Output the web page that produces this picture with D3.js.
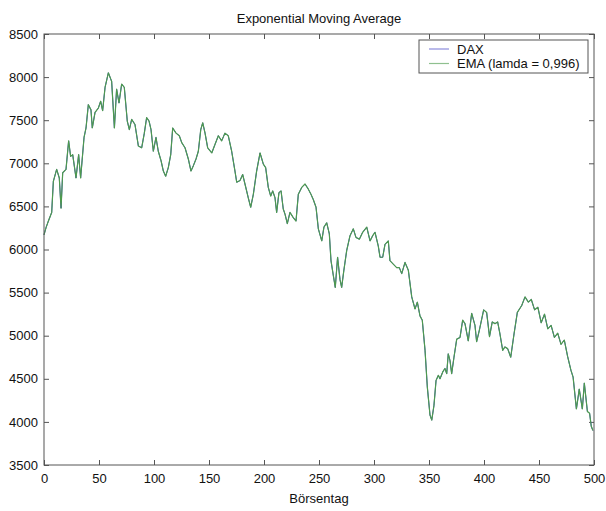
<!DOCTYPE html>
<html>
<head>
<meta charset="utf-8">
<script src="https://cdn.jsdelivr.net/npm/d3@7"></script>
<style>
	body { margin: 0; background: #fff; }
	text { font-family: "Liberation Sans", Arial, sans-serif; fill: #111; }
</style>
</head>
<body>
<svg id="chart" width="606" height="511"></svg>
<script>
// values (Börsentag, index points)
let days = [
	0, 2, 4, 7, 8.5, 11.5, 13.9, 15.5, 17, 20, 22.4, 24.2, 26.1, 29.1, 31.5, 33.3,
	36.4, 38.2, 40.3, 42.7, 43.9, 46.4, 49.4, 51.5, 53.3, 55.5, 58.5, 61.5, 64, 66,
	68.2, 70.6, 73, 75.7, 77.6, 79.7, 82.7, 85.8, 88.8, 91.2, 93.3, 95.5, 97.3, 99.4,
	101.8, 103.9, 106.4, 108.5, 110.6, 113, 115.2, 117, 120, 123, 125.2, 128.2, 131.2,
	133.6, 135.7, 138.2, 140.3, 142.5, 144.3, 146.4, 148.8, 152.5, 155.5, 158.5, 161.5,
	164.5, 167.5, 170.6, 173.6, 175.2, 178.2, 180.6, 182.7, 185.7, 187.9, 190.3, 193.3,
	196.4, 199.4, 201.5, 203.9, 206.1, 207.9, 210, 211.5, 213.6, 215.5, 217.5, 219.1,
	221.2, 223.6, 226.6, 229.1, 231.2, 234.3, 237.3, 240.3, 242.7, 244.8, 247.3, 249.4,
	252.5, 254.5, 257, 259.4, 260.9, 263, 264.8, 266.9, 269.1, 270.6, 272.5, 275.2,
	278.2, 281.2, 283.6, 286.7, 289.7, 293.4, 296.4, 298.8, 300.9, 303.9, 305.5, 307.9,
	310, 313, 314.5, 317.5, 320.6, 323, 325.2, 328.2, 331.2, 334.3, 337.3, 339.4, 341.8,
	343.9, 346.4, 348.5, 350.9, 352.5, 354.5, 356.4, 358.5, 360, 362.5, 364.5, 366.1,
	367.5, 369.1, 370.6, 372.7, 375.2, 378.2, 380.6, 382.7, 385.7, 388.8, 391.8, 393.3,
	395.7, 399.7, 402.4, 405, 407.5, 410, 412.4, 414.5, 417, 419, 421.5, 424.3, 427.3,
	430.3, 434.3, 437.3, 440.3, 443, 446, 449, 452, 455, 458, 461, 464, 467, 470, 473,
	476, 479, 481, 484, 486.6, 489.4, 491.2, 494, 496, 497.5, 499
];
let emaValues = [
	6170, 6260, 6330, 6430, 6790, 6930, 6830, 6480, 6890, 6930, 7260, 7080, 7100, 6830, 7100, 6830,
	7300, 7410, 7680, 7620, 7410, 7590, 7640, 7720, 7610, 7880, 8050, 7950, 7410, 7860,
	7700, 7920, 7880, 7490, 7390, 7510, 7450, 7200, 7180, 7350, 7530, 7490, 7390, 7140,
	7300, 7140, 7030, 6910, 6850, 6950, 7100, 7410, 7350, 7320, 7240, 7180, 7050,
	6910, 6970, 7050, 7140, 7390, 7470, 7350, 7180, 7120, 7220, 7320, 7260,
	7350, 7320, 7140, 6910, 6780, 6800, 6870, 6760, 6600, 6490, 6640, 6910,
	7120, 6990, 6950, 6720, 6620, 6680, 6600, 6430, 6660, 6680, 6470, 6410,
	6300, 6430, 6370, 6330, 6640, 6720, 6760, 6700, 6640, 6580, 6490, 6240,
	6100, 6260, 6310, 6180, 5870, 5700, 5560, 5910, 5650, 5560, 5750, 5990,
	6160, 6240, 6140, 6120, 6200, 6260, 6100, 6160, 6200, 6040, 5910, 5910,
	6060, 6100, 5870, 5830, 5790, 5790, 5720, 5850, 5760, 5450, 5310, 5390, 5230,
	5180, 4830, 4400, 4080, 4020, 4190, 4480, 4540, 4500, 4580, 4620, 4560,
	4790, 4710, 4560, 4750, 4960, 4980, 5180, 5140, 4940, 5260, 5120, 4930,
	5060, 5300, 5270, 4990, 5160, 5140, 5160, 5020, 4830, 4870, 4850, 4750, 5020,
	5270, 5350, 5450, 5390, 5420, 5300, 5330, 5150, 5250, 5080, 5120, 4980, 5030, 4900, 4950,
	4760, 4600, 4520, 4150, 4380, 4150, 4450, 4120, 4100, 3950, 3900
];
// the blue DAX line lies under the green EMA line everywhere in the picture
let daxValues = emaValues.slice();

let xTicks = [0, 50, 100, 150, 200, 250, 300, 350, 400, 450, 500];
let yTicks = [3500, 4000, 4500, 5000, 5500, 6000, 6500, 7000, 7500, 8000, 8500];
let seriesNames = ["DAX", "EMA (lamda = 0,996)"];
let seriesColors = ["#3b3bd8", "#4e9a4e"];
let legendColors = ["#8c8cdc", "#8fc08f"];

let size = { w: 606, h: 511 };
let margins = { left: 44, right: 12, top: 34, bottom: 46 };
let plotW = size.w - margins.left - margins.right;
let plotH = size.h - margins.top - margins.bottom;

let svg = d3.select("#chart");

let xScale = d3.scaleLinear().domain([0, 500]).range([margins.left, margins.left + plotW]);
let yScale = d3.scaleLinear().domain([3500, 8500]).range([margins.top + plotH, margins.top]);

let axisColor = "#555";

function styleAxis(g) {
	g.select(".domain").remove();
	g.selectAll(".tick line").attr("stroke", axisColor);
	g.selectAll(".tick text").style("font-size", "13px").attr("fill", "#111");
}

// bottom and left axes with inward ticks
svg.append("g")
	.attr("transform", `translate(0, ${margins.top + plotH})`)
	.call(d3.axisBottom(xScale).tickValues(xTicks).tickSize(-5).tickPadding(9).tickFormat(d3.format("d")))
	.call(styleAxis);

svg.append("g")
	.attr("transform", `translate(${margins.left}, 0)`)
	.call(d3.axisLeft(yScale).tickValues(yTicks).tickSize(-5).tickPadding(6).tickFormat(d3.format("d")))
	.call(styleAxis);

// mirrored ticks on top and right
svg.append("g")
	.attr("transform", `translate(0, ${margins.top})`)
	.call(d3.axisTop(xScale).tickValues(xTicks).tickSize(-5).tickFormat(""))
	.call(styleAxis);

svg.append("g")
	.attr("transform", `translate(${margins.left + plotW}, 0)`)
	.call(d3.axisRight(yScale).tickValues(yTicks).tickSize(-5).tickFormat(""))
	.call(styleAxis);

let data = days.map((d, i) => ({ day: d, dax: daxValues[i], ema: emaValues[i] }));

let line = (key) => d3.line()
	.x((d) => xScale(d.day))
	.y((d) => yScale(d[key]));

svg.append("path")
	.datum(data)
	.attr("fill", "none")
	.attr("stroke", seriesColors[0])
	.attr("stroke-width", 1)
	.attr("d", line("dax"));

svg.append("path")
	.datum(data)
	.attr("fill", "none")
	.attr("stroke", seriesColors[1])
	.attr("stroke-width", 1.2)
	.attr("stroke-linejoin", "round")
	.attr("d", line("ema"));

// axes box
svg.append("rect")
	.attr("x", margins.left)
	.attr("y", margins.top)
	.attr("width", plotW)
	.attr("height", plotH)
	.attr("fill", "none")
	.attr("stroke", axisColor);

// legend
let legend = svg.append("g").attr("transform", "translate(419, 40)");
legend.append("rect")
	.attr("width", 169)
	.attr("height", 33)
	.attr("fill", "#fff")
	.attr("stroke", axisColor);

let items = legend.selectAll("g.item")
	.data(seriesNames)
	.join("g")
	.classed("item", true)
	.attr("transform", (d, i) => `translate(0, ${9 + i * 14.5})`);

items.append("line")
	.attr("x1", 10)
	.attr("x2", 30)
	.attr("stroke", (d, i) => legendColors[i])
	.attr("stroke-width", 1.2);

items.append("text")
	.attr("x", 38)
	.attr("dy", "0.35em")
	.style("font-size", "13px")
	.text((d) => d);

// title and x label
svg.append("text")
	.attr("x", margins.left + plotW / 2)
	.attr("y", 23)
	.attr("text-anchor", "middle")
	.style("font-size", "13px")
	.text("Exponential Moving Average");

svg.append("text")
	.attr("x", margins.left + plotW / 2)
	.attr("y", 503)
	.attr("text-anchor", "middle")
	.style("font-size", "13px")
	.text("Börsentag");
</script>
</body>
</html>
